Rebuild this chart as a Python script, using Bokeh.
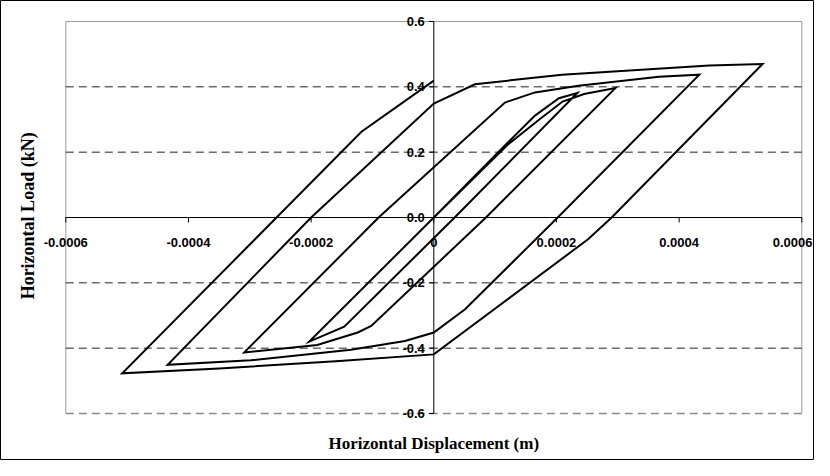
from math import pi
from bokeh.plotting import figure
from bokeh.models import Range1d
from bokeh.core.properties import value
from bokeh.embed import file_html
from bokeh.resources import INLINE

# ---------------- data ----------------
# hysteresis path, displacement in m and load in kN, in drawing order
cycle1_disp = [0.0, 0.000120, 0.000165, 0.000204, 0.000234,
               0.000034, -0.000146, -0.000203]
cycle1_load = [0.0, 0.228, 0.312, 0.365, 0.381,
               0.0, -0.334, -0.380]
cycle2_disp = [0.0, 0.000120, 0.000172, 0.000210, 0.000245, 0.000296,
               0.000085, -0.000102, -0.000124, -0.000190, -0.000309]
cycle2_load = [0.0, 0.222, 0.300, 0.355, 0.378, 0.396,
               0.0, -0.332, -0.352, -0.390, -0.413]
cycle3_disp = [-0.000090, 0.000116, 0.000165, 0.000236, 0.000367, 0.000433,
               0.000202, 0.000051, 0.0, -0.000047, -0.000135, -0.000298, -0.000434]
cycle3_load = [0.0, 0.352, 0.383, 0.403, 0.431, 0.437,
               0.0, -0.281, -0.352, -0.378, -0.405, -0.437, -0.451]
cycle4_disp = [-0.000200, 0.0, 0.000067, 0.000209, 0.000449, 0.000536,
               0.000290, 0.000252, 0.0, -0.000160, -0.000350, -0.000508]
cycle4_load = [0.0, 0.349, 0.408, 0.437, 0.465, 0.470,
               0.0, -0.066, -0.419, -0.440, -0.462, -0.477]
cycle5_disp = [-0.000118, 0.0]
cycle5_load = [0.2625, 0.419]

x_ticks = [-0.0006, -0.0004, -0.0002, 0.0, 0.0002, 0.0004, 0.0006]
x_tick_labels = ["-0.0006", "-0.0004", "-0.0002", "0", "0.0002", "0.0004", "0.0006"]
y_ticks = [-0.6, -0.4, -0.2, 0.0, 0.2, 0.4, 0.6]
y_tick_labels = ["-0.6", "-0.4", "-0.2", "0.0", "0.2", "0.4", "0.6"]
dashed_grid = [-0.4, -0.2, 0.2, 0.4]

x_title = "Horizontal Displacement (m)"
y_title = "Horizontal Load (kN)"

# ---------------- layout ----------------
W, H = 814, 460
XMIN, XMAX = -0.0006, 0.0006
YMIN, YMAX = -0.6, 0.6
F_LEFT, F_RIGHT, F_TOP, F_BOTTOM = 65.3, 801.3, 21.0, 413.0  # plot-area in canvas px
SX = (F_RIGHT - F_LEFT) / (XMAX - XMIN)
SY = (F_BOTTOM - F_TOP) / (YMAX - YMIN)
x_range = Range1d(XMIN - F_LEFT / SX, XMAX + (W - F_RIGHT) / SX)
y_range = Range1d(YMIN - (H - F_BOTTOM) / SY, YMAX + F_TOP / SY)

p = figure(width=W, height=H, x_range=x_range, y_range=y_range,
           output_backend="svg", toolbar_location=None,
           x_axis_location=None, y_axis_location=None,
           min_border=0, min_border_left=0, min_border_right=0,
           min_border_top=0, min_border_bottom=0)
p.grid.visible = False
p.outline_line_color = "black"
p.outline_line_width = 1
p.background_fill_color = "white"
p.border_fill_color = "white"

# plot-area border (grey)
p.multi_line(xs=[[XMIN, XMAX], [XMIN, XMIN], [XMAX, XMAX]],
             ys=[[YMAX, YMAX], [YMIN, YMAX], [YMIN, YMAX]],
             line_color="#9a9a9a", line_width=1)
p.segment(x0=[XMIN], y0=[YMIN], x1=[XMAX], y1=[YMIN],
          line_color="#8a8a8a", line_width=1.3, line_dash="8 5")

# dashed gridlines
p.segment(x0=[XMIN] * len(dashed_grid), y0=dashed_grid,
          x1=[XMAX] * len(dashed_grid), y1=dashed_grid,
          line_color="#222222", line_width=1, line_dash="8 5")

# axes through the origin
p.segment(x0=[0, XMIN], y0=[YMIN, 0], x1=[0, XMAX], y1=[YMAX, 0],
          line_color="black", line_width=1)
# tick marks
p.segment(x0=[-5 / SX] * len(y_ticks), y0=y_ticks, x1=[0] * len(y_ticks), y1=y_ticks,
          line_color="black", line_width=1)
p.segment(x0=x_ticks, y0=[0] * len(x_ticks), x1=x_ticks, y1=[-5 / SY] * len(x_ticks),
          line_color="black", line_width=1)

# tick labels
tick_font = dict(text_font=value("Liberation Sans"), text_font_style="bold",
                 text_font_size="13px", text_baseline="middle", text_color="black")
p.text(x=[-9 / SX] * len(y_ticks), y=y_ticks, text=y_tick_labels,
       text_align="right", **tick_font)
p.text(x=x_ticks[:-1], y=[-25 / SY] * (len(x_ticks) - 1), text=x_tick_labels[:-1],
       text_align="center", **tick_font)
# last label kept inside the canvas
p.text(x=[XMAX + (W - 2 - F_RIGHT) / SX], y=[-25 / SY], text=x_tick_labels[-1:],
       text_align="right", **tick_font)

# axis titles
p.text(x=[0], y=[YMIN - (443 - F_BOTTOM) / SY], text=[x_title],
       text_font=value("Liberation Serif"), text_font_style="bold",
       text_font_size="17px", text_align="center", text_baseline="middle",
       text_color="black")
p.text(x=[XMIN - (F_LEFT - 27) / SX], y=[0.005], text=[y_title], angle=pi / 2,
       text_font=value("Liberation Serif"), text_font_style="bold",
       text_font_size="18px", text_align="center", text_baseline="middle",
       text_color="black")

# hysteresis curve
path_x = cycle1_disp + cycle2_disp + cycle3_disp + cycle4_disp + cycle5_disp
path_y = cycle1_load + cycle2_load + cycle3_load + cycle4_load + cycle5_load
p.line(path_x, path_y, line_color="black", line_width=2, line_join="miter")

open("out.html", "w").write(file_html(p, INLINE))
